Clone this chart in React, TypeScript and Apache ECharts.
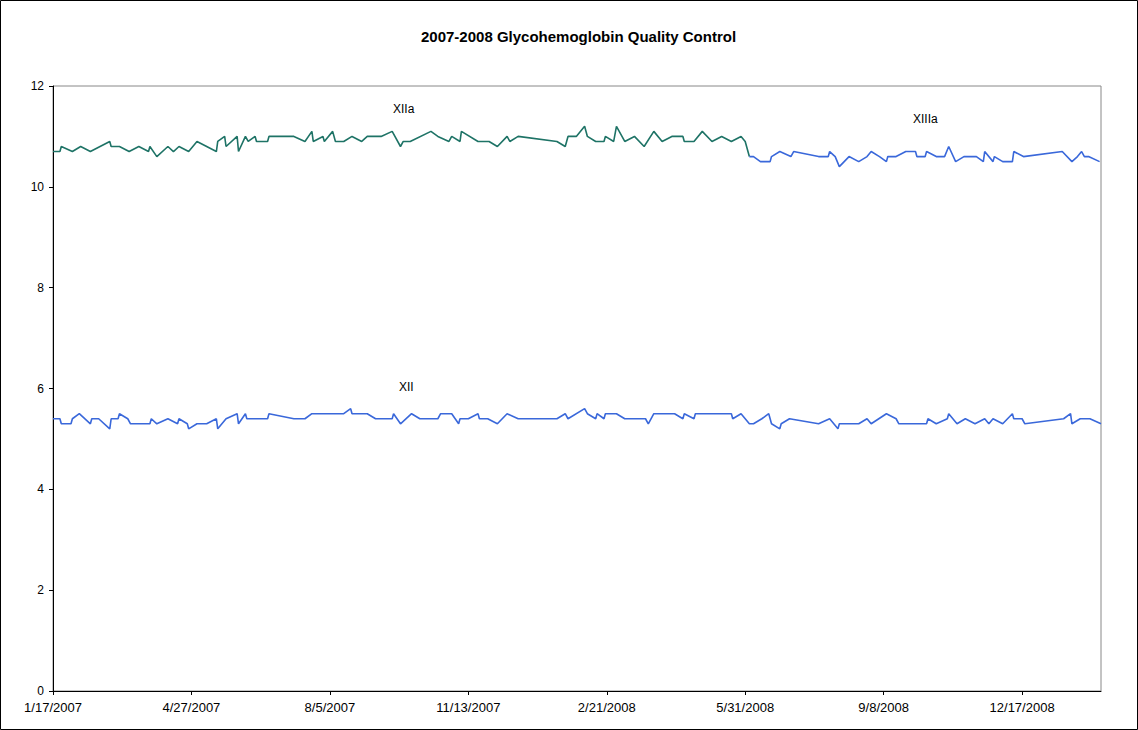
import React, { useEffect, useRef } from "react";
import * as echarts from "echarts";

// Days since 1/17/2007
const xiiaDays = [0, 5, 6, 14, 20, 27, 41, 42, 48, 55, 62, 69, 70, 75, 83, 87, 91, 98, 104, 118, 119, 124, 125, 133, 134, 139, 141, 146, 147, 155, 156, 174, 182, 187, 188, 195, 196, 202, 204, 210, 216, 223, 227, 237, 245, 251, 253, 258, 273, 278, 286, 288, 294, 295, 307, 315, 321, 328, 330, 336, 364, 370, 372, 378, 384, 386, 392, 398, 399, 405, 407, 413, 420, 427, 434, 440, 447, 455, 456, 463, 469, 476, 483, 490, 497, 500, 503];
const xiiaValues = [10.7, 10.7, 10.8, 10.7, 10.8, 10.7, 10.9, 10.8, 10.8, 10.7, 10.8, 10.7, 10.8, 10.6, 10.8, 10.7, 10.8, 10.7, 10.9, 10.7, 10.9, 11.0, 10.8, 11.0, 10.7, 11.0, 10.9, 11.0, 10.9, 10.9, 11.0, 11.0, 10.9, 11.1, 10.9, 11.0, 10.9, 11.1, 10.9, 10.9, 11.0, 10.9, 11.0, 11.0, 11.1, 10.8, 10.9, 10.9, 11.1, 11.0, 10.9, 11.0, 10.9, 11.1, 10.9, 10.9, 10.8, 11.0, 10.9, 11.0, 10.9, 10.8, 11.0, 11.0, 11.2, 11.0, 10.9, 10.9, 11.0, 10.9, 11.2, 10.9, 11.0, 10.8, 11.1, 10.9, 11.0, 11.0, 10.9, 10.9, 11.1, 10.9, 11.0, 10.9, 11.0, 10.9, 10.6];

const xiiiaDays = [503, 506, 511, 518, 519, 525, 533, 535, 553, 560, 561, 565, 568, 575, 582, 588, 591, 597, 602, 603, 609, 616, 623, 624, 630, 631, 638, 644, 647, 652, 658, 667, 672, 673, 679, 680, 686, 693, 694, 701, 729, 736, 740, 743, 745, 748, 756];
const xiiiaValues = [10.6, 10.6, 10.5, 10.5, 10.6, 10.7, 10.6, 10.7, 10.6, 10.6, 10.7, 10.6, 10.4, 10.6, 10.5, 10.6, 10.7, 10.6, 10.5, 10.6, 10.6, 10.7, 10.7, 10.6, 10.6, 10.7, 10.6, 10.6, 10.8, 10.5, 10.6, 10.6, 10.5, 10.7, 10.5, 10.6, 10.5, 10.5, 10.7, 10.6, 10.7, 10.5, 10.6, 10.7, 10.6, 10.6, 10.5];

const xiiDays = [0, 5, 6, 13, 14, 19, 27, 28, 33, 41, 42, 47, 48, 54, 56, 70, 71, 75, 83, 90, 91, 97, 98, 104, 111, 118, 119, 125, 133, 134, 139, 140, 155, 156, 174, 182, 187, 210, 215, 216, 227, 233, 245, 246, 251, 259, 265, 278, 280, 288, 293, 294, 300, 307, 308, 314, 321, 328, 336, 364, 370, 372, 384, 386, 392, 393, 398, 399, 407, 413, 428, 430, 434, 449, 455, 456, 463, 464, 490, 491, 497, 503, 506, 512, 517, 519, 525, 526, 532, 553, 561, 567, 568, 582, 588, 591, 602, 609, 611, 631, 632, 638, 646, 647, 653, 659, 666, 673, 676, 679, 686, 693, 694, 700, 702, 730, 735, 736, 742, 749, 757];
const xiiValues = [5.4, 5.4, 5.3, 5.3, 5.4, 5.5, 5.3, 5.4, 5.4, 5.2, 5.4, 5.4, 5.5, 5.4, 5.3, 5.3, 5.4, 5.3, 5.4, 5.3, 5.4, 5.3, 5.2, 5.3, 5.3, 5.4, 5.2, 5.4, 5.5, 5.3, 5.5, 5.4, 5.4, 5.5, 5.4, 5.4, 5.5, 5.5, 5.6, 5.5, 5.5, 5.4, 5.4, 5.5, 5.3, 5.5, 5.4, 5.4, 5.5, 5.5, 5.3, 5.4, 5.4, 5.5, 5.4, 5.4, 5.3, 5.5, 5.4, 5.4, 5.5, 5.4, 5.6, 5.5, 5.4, 5.5, 5.4, 5.5, 5.5, 5.4, 5.4, 5.3, 5.5, 5.5, 5.4, 5.5, 5.4, 5.5, 5.5, 5.4, 5.5, 5.3, 5.3, 5.4, 5.5, 5.3, 5.2, 5.3, 5.4, 5.3, 5.4, 5.2, 5.3, 5.3, 5.4, 5.3, 5.5, 5.4, 5.3, 5.3, 5.4, 5.3, 5.4, 5.5, 5.3, 5.4, 5.3, 5.4, 5.3, 5.4, 5.3, 5.5, 5.4, 5.4, 5.3, 5.4, 5.5, 5.3, 5.4, 5.4, 5.3];

const xTickDays = [0, 100, 200, 300, 400, 500, 600, 700];
const xMaxDay = 757;
const startDate = { year: 2007, month: 0, day: 17 };

const titleText = "2007-2008 Glycohemoglobin Quality Control";

function pairs(days: number[], vals: number[]) {
  return days.map((d, i) => [d, vals[i]]);
}

function dayLabel(v: number) {
  const dt = new Date(startDate.year, startDate.month, startDate.day + Math.round(v));
  return `${dt.getMonth() + 1}/${dt.getDate()}/${dt.getFullYear()}`;
}

export default function App() {
  const ref = useRef<HTMLDivElement>(null);
  useEffect(() => {
    if (!ref.current) return;
    const chart = echarts.init(ref.current, null, { renderer: "svg" });
    const font = "Liberation Sans, Arial, sans-serif";
    chart.setOption({
      animation: false,
      backgroundColor: "#ffffff",
      title: {
        text: titleText,
        left: 416,
        top: 24,
        textStyle: { fontFamily: font, fontSize: 15, fontWeight: "bold", color: "#000" },
      },
      grid: {
        left: 53,
        top: 86,
        right: 37,
        bottom: 39,
        show: true,
        borderColor: "#888888",
        borderWidth: 1,
        containLabel: false,
      },
      xAxis: {
        type: "value",
        min: 0,
        max: xMaxDay,
        interval: 100,
        axisLine: { show: true, lineStyle: { color: "#000", width: 1 } },
        axisTick: { show: true, length: 4, customValues: xTickDays, lineStyle: { color: "#000" } },
        axisLabel: {
          customValues: xTickDays,
          formatter: (v: number) => dayLabel(v),
          fontFamily: font,
          fontSize: 13,
          color: "#000",
          margin: 10,
        },
        splitLine: { show: false },
      },
      yAxis: {
        type: "value",
        min: 0,
        max: 12,
        interval: 2,
        axisLine: { show: true, lineStyle: { color: "#000", width: 1 } },
        axisTick: { show: true, length: 4, lineStyle: { color: "#000" } },
        axisLabel: { fontFamily: font, fontSize: 12, color: "#000", margin: 9 },
        splitLine: { show: false },
      },
      graphic: [
        {
          type: "rect",
          shape: { x: 0.5, y: 0.5, width: 1137, height: 729 },
          style: { fill: "none", stroke: "#000", lineWidth: 1 },
          silent: true,
        },
        {
          type: "text",
          x: 393,
          y: 103,
          style: { text: "XIIa", fontFamily: font, fontSize: 12, fill: "#000" },
        },
        {
          type: "text",
          x: 913,
          y: 113,
          style: { text: "XIIIa", fontFamily: font, fontSize: 12, fill: "#000" },
        },
        {
          type: "text",
          x: 399,
          y: 381,
          style: { text: "XII", fontFamily: font, fontSize: 12, fill: "#000" },
        },
      ],
      series: [
        {
          name: "XIIa",
          type: "line",
          data: pairs(xiiaDays, xiiaValues),
          showSymbol: false,
          lineStyle: { color: "#1E7366", width: 1.6 },
          itemStyle: { color: "#1E7366" },
        },
        {
          name: "XIIIa",
          type: "line",
          data: pairs(xiiiaDays, xiiiaValues),
          showSymbol: false,
          lineStyle: { color: "#3A68DA", width: 1.6 },
          itemStyle: { color: "#3A68DA" },
        },
        {
          name: "XII",
          type: "line",
          data: pairs(xiiDays, xiiValues),
          showSymbol: false,
          lineStyle: { color: "#3A68DA", width: 1.6 },
          itemStyle: { color: "#3A68DA" },
        },
      ],
    });
    return () => chart.dispose();
  }, []);
  return (
    <div
      ref={ref}
      style={{ position: "fixed", left: 0, top: 0, width: 1138, height: 730, background: "#fff" }}
    />
  );
}
